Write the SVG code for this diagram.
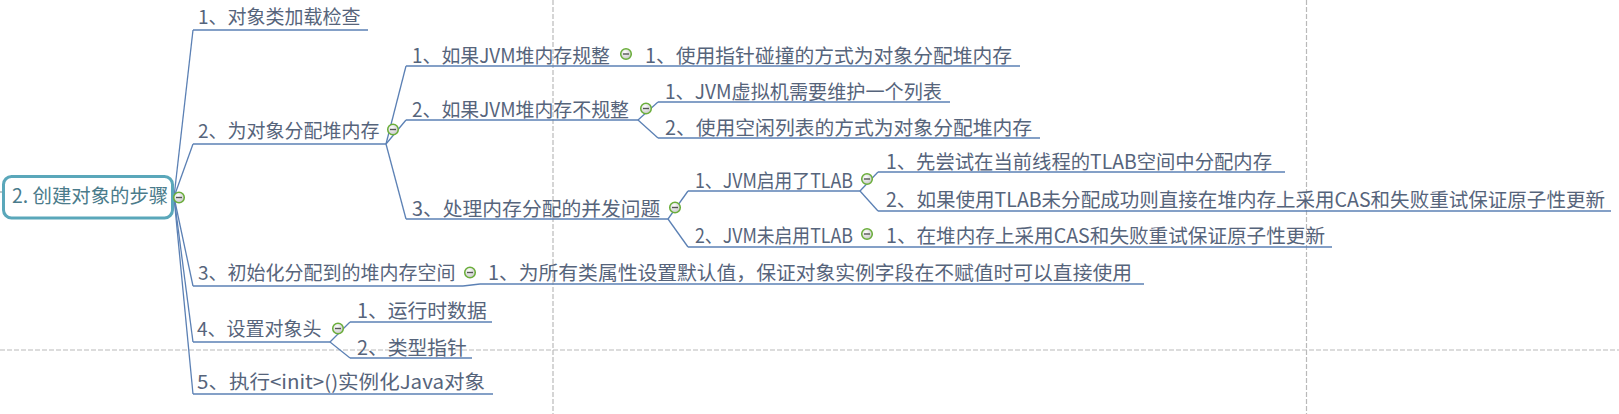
<svg xmlns="http://www.w3.org/2000/svg" width="1619" height="414" viewBox="0 0 1619 414">
<style>
.t{font-family:"Noto Sans CJK SC","Noto Sans",sans-serif;fill:#56647b;font-size:19.8px}
.t1{font-size:19px}
.rt{font-family:"Noto Sans CJK SC","Noto Sans",sans-serif;fill:#4a7b8b;font-size:19.4px}
.ln{stroke:#5b80b4;stroke-width:1.3;fill:none}
.grid{stroke:#b9b9b9;stroke-width:1.2;stroke-dasharray:5 2;fill:none}
</style>
<defs>
<radialGradient id="g" cx="40%" cy="35%" r="70%"><stop offset="0" stop-color="#ffffff"/><stop offset="1" stop-color="#c4c4c4"/></radialGradient>
<g id="minus"><circle r="5.3" fill="url(#g)" stroke="#6aae3a" stroke-width="1.5"/><line x1="-3" y1="0" x2="3" y2="0" stroke="#555" stroke-width="1.4"/></g>
</defs>
<rect width="1619" height="414" fill="#ffffff"/>
<g id="grid">
<line class="grid" x1="553" y1="0" x2="553" y2="414"/>
<line class="grid" x1="1306.5" y1="0" x2="1306.5" y2="414"/>
<line class="grid" x1="0" y1="350" x2="1619" y2="350"/>
</g>
<g id="connectors" class="ln">
<path d="M0 192 L3 192" stroke="#9aa"/>
<path d="M174 197 L193 30"/>
<path d="M174 197 L193 144"/>
<path d="M174 197 L193 286"/>
<path d="M174 197 L193 342"/>
<path d="M174 197 L193 394"/>
<path d="M386 144 L406 66"/>
<path d="M386 144 L406 120"/>
<path d="M386 144 L406 219"/>
<path d="M638 120 L658 102"/>
<path d="M638 120 L658 138"/>
<path d="M668 219 L688 191"/>
<path d="M668 219 L688 247"/>
<path d="M860 191 L878 172"/>
<path d="M860 191 L878 211"/>
<path d="M463 286 L480 284"/>
<path d="M330 342 L350 322"/>
<path d="M330 342 L350 358"/>
</g>
<g id="root">
<rect x="3.5" y="176.5" width="169" height="41.5" rx="8" fill="#ffffff" stroke="#5aa7ba" stroke-width="3"/>
<text class="rt" x="12" y="203">2. 创建对象的步骤</text>
<use href="#minus" x="179" y="197.5"/>
</g>
<g id="n1">
<text class="t t1" x="198" y="24">1、对象类加载检查</text>
<line class="ln" x1="193" y1="30" x2="368" y2="30"/>
</g>
<g id="n2">
<text class="t t1" x="198" y="138">2、为对象分配堆内存</text>
<line class="ln" x1="193" y1="144" x2="386" y2="144"/>
<use href="#minus" x="393" y="129.5"/>
</g>
<g id="n2-1">
<text class="t" x="412" y="62.5" textLength="198" lengthAdjust="spacingAndGlyphs">1、如果JVM堆内存规整</text>
<line class="ln" x1="406" y1="66" x2="636" y2="66"/>
<use href="#minus" x="626" y="54"/>
</g>
<g id="n2-1-1">
<text class="t" x="645" y="62.5">1、使用指针碰撞的方式为对象分配堆内存</text>
<line class="ln" x1="636" y1="66" x2="1020" y2="66"/>
</g>
<g id="n2-2">
<text class="t" x="412" y="116.5" textLength="217" lengthAdjust="spacingAndGlyphs">2、如果JVM堆内存不规整</text>
<line class="ln" x1="406" y1="120" x2="638" y2="120"/>
<use href="#minus" x="646" y="108.5"/>
</g>
<g id="n2-2-1">
<text class="t" x="665" y="98.5" textLength="277" lengthAdjust="spacingAndGlyphs">1、JVM虚拟机需要维护一个列表</text>
<line class="ln" x1="658" y1="102" x2="950" y2="102"/>
</g>
<g id="n2-2-2">
<text class="t" x="665" y="134.5">2、使用空闲列表的方式为对象分配堆内存</text>
<line class="ln" x1="658" y1="138" x2="1040" y2="138"/>
</g>
<g id="n2-3">
<text class="t" x="412" y="215.5">3、处理内存分配的并发问题</text>
<line class="ln" x1="406" y1="219" x2="668" y2="219"/>
<use href="#minus" x="675" y="207.5"/>
</g>
<g id="n2-3-1">
<text class="t" x="695" y="187.5" textLength="158" lengthAdjust="spacingAndGlyphs">1、JVM启用了TLAB</text>
<line class="ln" x1="688" y1="191" x2="860" y2="191"/>
<use href="#minus" x="867" y="179"/>
</g>
<g id="n2-3-1-1">
<text class="t" x="886" y="169" textLength="386" lengthAdjust="spacingAndGlyphs">1、先尝试在当前线程的TLAB空间中分配内存</text>
<line class="ln" x1="878" y1="172" x2="1285" y2="172"/>
</g>
<g id="n2-3-1-2">
<text class="t" x="886" y="206.5" textLength="719" lengthAdjust="spacingAndGlyphs">2、如果使用TLAB未分配成功则直接在堆内存上采用CAS和失败重试保证原子性更新</text>
<line class="ln" x1="878" y1="211" x2="1611" y2="211"/>
</g>
<g id="n2-3-2">
<text class="t" x="695" y="242.5" textLength="158" lengthAdjust="spacingAndGlyphs">2、JVM未启用TLAB</text>
<line class="ln" x1="688" y1="247" x2="860" y2="247"/>
<use href="#minus" x="867" y="234"/>
</g>
<g id="n2-3-2-1">
<text class="t" x="886" y="242.5" textLength="439" lengthAdjust="spacingAndGlyphs">1、在堆内存上采用CAS和失败重试保证原子性更新</text>
<line class="ln" x1="860" y1="247" x2="1332" y2="247"/>
</g>
<g id="n3">
<text class="t t1" x="198" y="280">3、初始化分配到的堆内存空间</text>
<line class="ln" x1="193" y1="286" x2="463" y2="286"/>
<use href="#minus" x="470" y="272.5"/>
</g>
<g id="n3-1">
<text class="t" x="488" y="280">1、为所有类属性设置默认值，保证对象实例字段在不赋值时可以直接使用</text>
<line class="ln" x1="480" y1="284" x2="1144" y2="284"/>
</g>
<g id="n4">
<text class="t t1" x="197" y="336">4、设置对象头</text>
<line class="ln" x1="193" y1="342" x2="330" y2="342"/>
<use href="#minus" x="338" y="328.5"/>
</g>
<g id="n4-1">
<text class="t" x="357" y="318">1、运行时数据</text>
<line class="ln" x1="350" y1="322" x2="492" y2="322"/>
</g>
<g id="n4-2">
<text class="t" x="357" y="354.5">2、类型指针</text>
<line class="ln" x1="350" y1="358" x2="472" y2="358"/>
</g>
<g id="n5">
<text class="t t1" x="197" y="389" textLength="288" lengthAdjust="spacingAndGlyphs">5、执行&lt;init&gt;()实例化Java对象</text>
<line class="ln" x1="193" y1="394" x2="493" y2="394"/>
</g>
</svg>
